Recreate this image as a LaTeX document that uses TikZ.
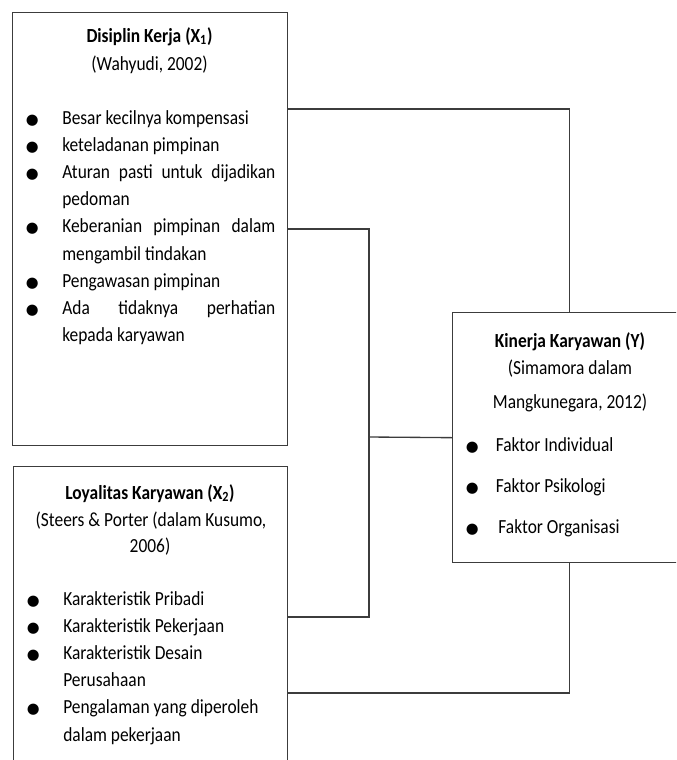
\documentclass[tikz,border=0pt]{standalone}
\usepackage{fontspec}
\setmainfont{Carlito}[FakeStretch=0.87]
\newfontfamily\symf{DejaVu Sans}
\definecolor{lc}{RGB}{60,60,60}
\newcommand{\bul}{\makebox[27.4pt][l]{{\symf\fontsize{11pt}{11pt}\selectfont ●}}}
\newcommand{\ind}{\hspace*{27.4pt}}
\newcommand{\ybul}{\makebox[22.5pt][l]{{\symf\fontsize{11pt}{11pt}\selectfont ●}}}
\begin{document}
\begin{tikzpicture}[x=0.75pt,y=-0.75pt,
  box/.style={draw=lc, line width=1pt, anchor=north west, inner sep=0pt},
  conn/.style={draw=lc, line width=1pt},
  txt/.style={inner sep=0pt, font=\fontsize{15pt}{20.4pt}\selectfont},
  ttl/.style={inner sep=0pt, anchor=base, font=\fontsize{15pt}{20.4pt}\selectfont\bfseries}]
\useasboundingbox (0,0) rectangle (676,760);
\clip (0,0) rectangle (676,760);
% boxes
\node[box, minimum width=206.25pt, minimum height=324.75pt] (x1) at (12,12) {};
\node[box, minimum width=205.5pt, minimum height=250pt] (x2) at (13,466) {};
\node[box, minimum width=175.5pt, minimum height=187.5pt] (y) at (452,312) {};
% X1 text
\node[ttl] (x1t) at (149.5,42) {Disiplin Kerja (X\textsubscript{1})};
\node[txt, anchor=base] (x1s) at (149.5,70) {(Wahyudi, 2002)};
\node[txt, anchor=base west] (x1i) at (25.5,124) {\parbox[t]{200pt}{%
\bul Besar kecilnya kompensasi\\
\bul keteladanan pimpinan\\
\bul\makebox[159.75pt][s]{Aturan pasti untuk dijadikan}\\
\ind pedoman\\
\bul\makebox[159.75pt][s]{Keberanian pimpinan dalam}\\
\ind mengambil tindakan\\
\bul Pengawasan pimpinan\\
\bul\makebox[159.75pt][s]{Ada tidaknya perhatian}\\
\ind kepada karyawan}};
% X2 text
\node[ttl] (x2t) at (150,499) {Loyalitas Karyawan (X\textsubscript{2})};
\node[txt, anchor=base] (x2s) at (151,526) {(Steers \& Porter (dalam Kusumo,};
\node[txt, anchor=base] (x2y) at (150,552) {2006)};
\node[txt, anchor=base west] (x2i) at (26.5,605) {\parbox[t]{200pt}{%
\bul Karakteristik Pribadi\\
\bul Karakteristik Pekerjaan\\
\bul Karakteristik Desain\\
\ind Perusahaan\\
\bul Pengalaman yang diperoleh\\
\ind dalam pekerjaan}};
% Y text
\node[ttl] (yt) at (570,347) {Kinerja Karyawan (Y)};
\node[txt, anchor=base] (ys) at (570,374) {(Simamora dalam};
\node[txt, anchor=base] (yy) at (570,408) {Mangkunegara, 2012)};
\node[txt, anchor=base west] (y1) at (465.5,451) {\ybul Faktor Individual};
\node[txt, anchor=base west] (y2) at (465.5,492) {\ybul Faktor Psikologi};
\node[txt, anchor=base west] (y3) at (465.5,533) {\ybul\hspace{2pt}Faktor Organisasi};
% connectors
\coordinate (c1) at (287,109);
\coordinate (c2) at (287,229);
\coordinate (j) at (369,437);
\coordinate (c3) at (287,617);
\coordinate (c4) at (287,693);
\draw[conn] (c1) -| (y.north);
\draw[conn] (c2) -| (j) |- (c3);
\draw[conn] (j) -- (y.west);
\draw[conn] (y.south) |- (c4);
\end{tikzpicture}
\end{document}
